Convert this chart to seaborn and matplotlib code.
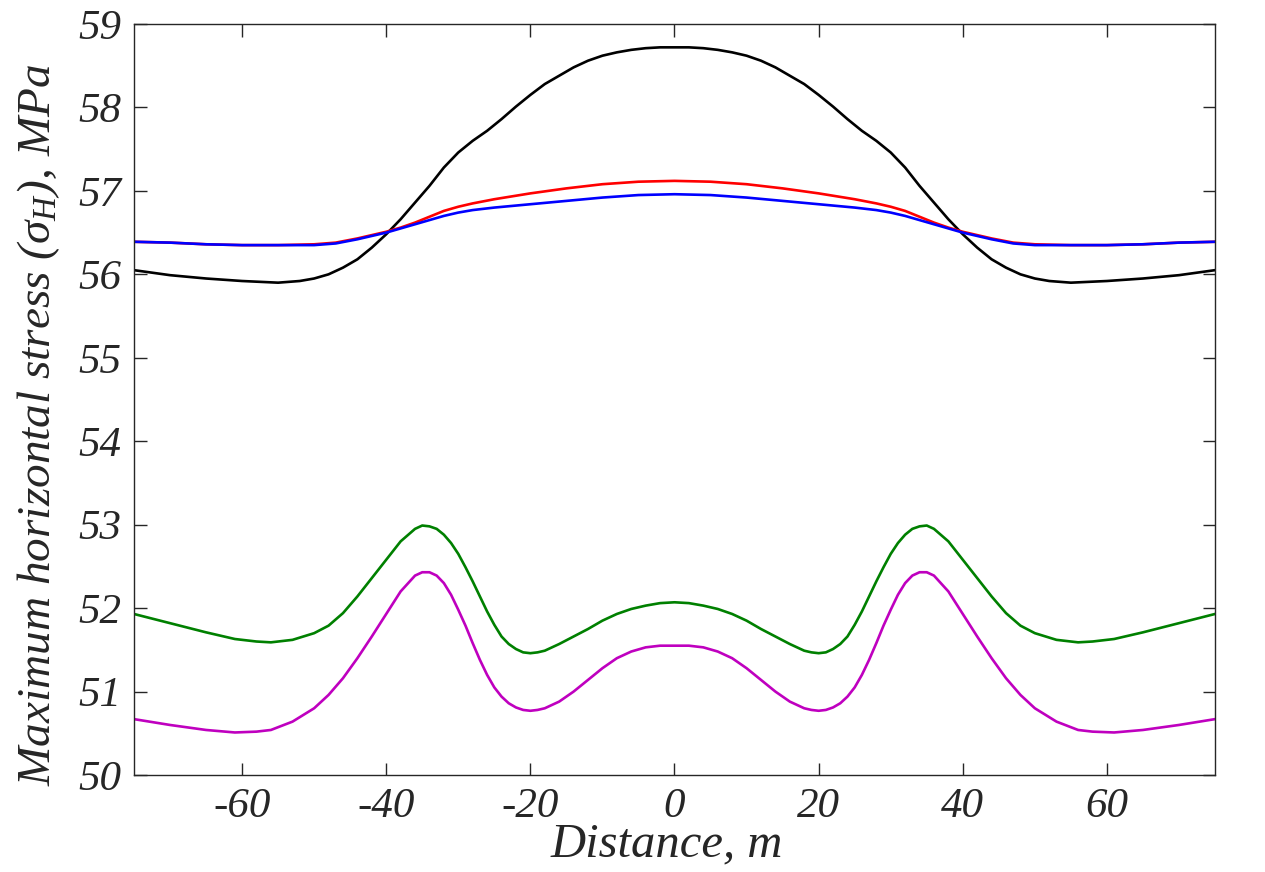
import matplotlib
matplotlib.use("Agg")
import matplotlib.pyplot as plt
import seaborn as sns
import pandas as pd

# ---------------- data ----------------
x_black = [-75, -70, -65, -60, -55, -52, -50, -48, -46, -44, -42, -40, -38, -36, -34, -32, -30, -28, -26, -24, -22, -20,
           -18, -16, -14, -12, -10, -8, -6, -4, -2, 0, 2, 4, 6, 8, 10, 12, 14, 16, 18, 20, 22, 24, 26, 28, 30, 32,
           34, 36, 38, 40, 42, 44, 46, 48, 50, 52, 55, 60, 65, 70, 75]
y_black = [56.05, 55.99, 55.95, 55.92, 55.90, 55.92, 55.95, 56.00, 56.08, 56.18, 56.32, 56.48, 56.66, 56.86, 57.06,
           57.28, 57.46, 57.60, 57.72, 57.86, 58.01, 58.15, 58.28, 58.38, 58.48, 58.56, 58.62, 58.66, 58.69, 58.71,
           58.72, 58.72, 58.72, 58.71, 58.69, 58.66, 58.62, 58.56, 58.48, 58.38, 58.28, 58.15, 58.01, 57.86, 57.72,
           57.60, 57.46, 57.28, 57.06, 56.86, 56.66, 56.48, 56.32, 56.18, 56.08, 56.00, 55.95, 55.92, 55.90, 55.92,
           55.95, 55.99, 56.05]

x_rb = [-75, -70, -65, -60, -55, -50, -47, -44, -42, -40, -38, -36, -34, -32, -30, -28, -25, -20, -15, -10, -5, 0,
        5, 10, 15, 20, 25, 28, 30, 32, 34, 36, 38, 40, 42, 44, 47, 50, 55, 60, 65, 70, 75]
y_red = [56.39, 56.38, 56.36, 56.35, 56.35, 56.36, 56.38, 56.43, 56.47, 56.51, 56.56, 56.62, 56.69, 56.76, 56.81,
         56.85, 56.90, 56.97, 57.03, 57.08, 57.11, 57.12, 57.11, 57.08, 57.03, 56.97, 56.90, 56.85, 56.81, 56.76,
         56.69, 56.62, 56.56, 56.51, 56.47, 56.43, 56.38, 56.36, 56.35, 56.35, 56.36, 56.38, 56.39]
y_blue = [56.39, 56.38, 56.36, 56.35, 56.35, 56.35, 56.37, 56.42, 56.46, 56.50, 56.55, 56.60, 56.65, 56.70, 56.74,
          56.77, 56.80, 56.84, 56.88, 56.92, 56.95, 56.96, 56.95, 56.92, 56.88, 56.84, 56.80, 56.77, 56.74, 56.70,
          56.65, 56.60, 56.55, 56.50, 56.46, 56.42, 56.37, 56.35, 56.35, 56.35, 56.36, 56.38, 56.39]

x_gm = [-75, -70, -65, -61, -58, -56, -53, -50, -48, -46, -44, -42, -40, -38, -36, -35, -34, -33, -32, -31, -30, -29,
        -28, -27, -26, -25, -24, -23, -22, -21, -20, -19, -18, -16, -14, -12, -10, -8, -6, -4, -2, 0,
        2, 4, 6, 8, 10, 12, 14, 16, 18, 19, 20, 21, 22, 23, 24, 25, 26, 27, 28, 29, 30, 31, 32, 33, 34, 35, 36, 38,
        40, 42, 44, 46, 48, 50, 53, 56, 58, 61, 65, 70, 75]
y_green = [51.93, 51.82, 51.71, 51.63, 51.60, 51.59, 51.62, 51.70, 51.79, 51.94, 52.14, 52.36, 52.58, 52.80, 52.95,
           52.99, 52.98, 52.95, 52.88, 52.78, 52.65, 52.49, 52.32, 52.14, 51.96, 51.80, 51.66, 51.57, 51.51, 51.47,
           51.46, 51.47, 51.49, 51.57, 51.66, 51.75, 51.85, 51.93, 51.99, 52.03, 52.06, 52.07,
           52.06, 52.03, 51.99, 51.93, 51.85, 51.75, 51.66, 51.57, 51.49, 51.47, 51.46, 51.47, 51.51, 51.57, 51.66,
           51.80, 51.96, 52.14, 52.32, 52.49, 52.65, 52.78, 52.88, 52.95, 52.98, 52.99, 52.95, 52.80,
           52.58, 52.36, 52.14, 51.94, 51.79, 51.70, 51.62, 51.59, 51.60, 51.63, 51.71, 51.82, 51.93]
y_magenta = [50.67, 50.60, 50.54, 50.51, 50.52, 50.54, 50.64, 50.80, 50.96, 51.16, 51.40, 51.66, 51.93, 52.20, 52.39,
             52.43, 52.43, 52.39, 52.30, 52.16, 51.98, 51.79, 51.58, 51.38, 51.20, 51.05, 50.94, 50.86, 50.81, 50.78,
             50.77, 50.78, 50.80, 50.88, 51.00, 51.14, 51.28, 51.40, 51.48, 51.53, 51.55, 51.55,
             51.55, 51.53, 51.48, 51.40, 51.28, 51.14, 51.00, 50.88, 50.80, 50.78, 50.77, 50.78, 50.81, 50.86, 50.94,
             51.05, 51.20, 51.38, 51.58, 51.79, 51.98, 52.16, 52.30, 52.39, 52.43, 52.43, 52.39, 52.20,
             51.93, 51.66, 51.40, 51.16, 50.96, 50.80, 50.64, 50.54, 50.52, 50.51, 50.54, 50.60, 50.67]

x_ticks = [-60, -40, -20, 0, 20, 40, 60]
y_ticks = [50, 51, 52, 53, 54, 55, 56, 57, 58, 59]

# ---------------- style ----------------
sns.set_theme(style="white")
plt.rcParams["font.family"] = ["Liberation Serif", "DejaVu Serif"]
plt.rcParams["font.style"] = "italic"
plt.rcParams["mathtext.fontset"] = "custom"
plt.rcParams["mathtext.rm"] = "Liberation Serif:italic"
plt.rcParams["mathtext.it"] = "Liberation Serif:italic"
plt.rcParams["axes.unicode_minus"] = False
plt.rcParams["lines.solid_joinstyle"] = "round"

fig = plt.figure(figsize=(12.65, 8.72), dpi=100)
ax = fig.add_axes([0.1059, 0.1112, 0.8546, 0.8613])

lw = 1.9
sns.lineplot(x=x_black, y=y_black, ax=ax, color="black", lw=lw, sort=False)
sns.lineplot(x=x_rb, y=y_red, ax=ax, color="#ff0000", lw=lw, sort=False)
sns.lineplot(x=x_rb, y=y_blue, ax=ax, color="#0000ff", lw=lw, sort=False)
sns.lineplot(x=x_gm, y=y_green, ax=ax, color="#008000", lw=lw, sort=False)
sns.lineplot(x=x_gm, y=y_magenta, ax=ax, color="#bf00bf", lw=lw, sort=False)

ax.set_xlim(-75, 75)
ax.set_ylim(50, 59)
ax.set_xticks(x_ticks)
ax.set_yticks(y_ticks)
ax.set_xticklabels([str(v) for v in x_ticks])
ax.set_yticklabels([str(v) for v in y_ticks])

for s in ax.spines.values():
    s.set_visible(True)
    s.set_color("#262626")
    s.set_linewidth(1.0)

ax.tick_params(direction="in", length=9, width=1.0, color="#262626",
               top=True, right=True, bottom=True, left=True,
               labelsize=31, labelcolor="#262626", pad=9)

ax.set_xlabel("Distance, m", fontsize=35, color="#262626", labelpad=-2)
ax.set_ylabel(r"Maximum horizontal stress ($\sigma_H$), MPa", fontsize=34, color="#262626")
ax.yaxis.set_label_coords(-0.0665, 0.466)
ax.xaxis.set_label_coords(0.493, -0.063)

fig.savefig("out.png", dpi=100)
